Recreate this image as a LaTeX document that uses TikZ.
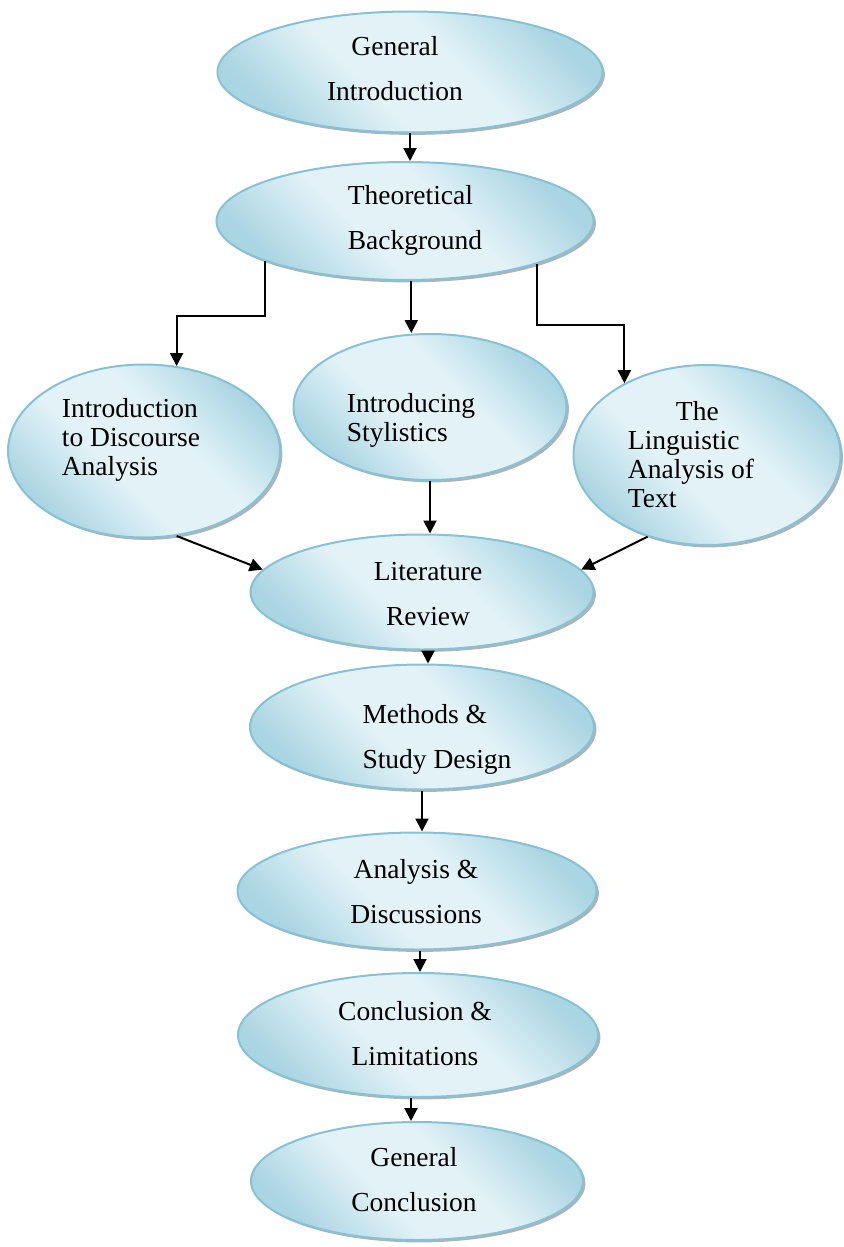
\documentclass[tikz,border=0pt]{standalone}
\usepackage{fontspec}
\setmainfont{Liberation Serif}
\usetikzlibrary{arrows.meta}
\usetikzlibrary{shapes.geometric}
\usetikzlibrary{shadows}

\definecolor{bubedge}{RGB}{134,194,213}
\definecolor{bubdark}{RGB}{170,213,226}
\definecolor{bublight}{RGB}{226,242,247}

\pgfdeclareverticalshading{bubshade}{100bp}{color(0bp)=(bubdark); color(25bp)=(bubdark);
	color(42bp)=(bublight); color(58bp)=(bublight); color(75bp)=(bubdark); color(100bp)=(bubdark)}

\begin{document}
\begin{tikzpicture}[x=0.5pt, y=-0.5pt,
	bub/.style={ellipse, draw=bubedge, line width=1pt, inner sep=0pt,
		shade, shading=bubshade, shading angle=135,
		drop shadow={shadow xshift=1.2pt, shadow yshift=-1.2pt, opacity=0.3, fill=black}},
	wide/.style={inner sep=0pt, font=\fontsize{13.75}{22.5}\selectfont},
	narrow/.style={inner sep=0pt, align=left, font=\fontsize{13.75}{14.5}\selectfont},
	arr/.style={-{Triangle[length=6.5pt,width=6.5pt]}, line width=1pt}]
	\fill[white] (0,0) rectangle (843,1247);
	\useasboundingbox (0,0) rectangle (843,1247);
	
	% bubbles
	\node[bub, minimum width=192.5pt, minimum height=60.5pt] (gi) at (410,72) {};
	\node[bub, minimum width=188.5pt, minimum height=59pt] (tb) at (405,221) {};
	\node[bub, minimum width=136pt, minimum height=86.5pt] (dis) at (144,451) {};
	\node[bub, minimum width=136.5pt, minimum height=73pt] (sty) at (430,407) {};
	\node[bub, minimum width=133.5pt, minimum height=90pt] (lin) at (707,455) {};
	\node[bub, minimum width=171.5pt, minimum height=57.5pt] (lr) at (422,592) {};
	\node[bub, minimum width=172pt, minimum height=62.5pt] (met) at (422,727) {};
	\node[bub, minimum width=179.5pt, minimum height=58.5pt] (ana) at (417,891) {};
	\node[bub, minimum width=180pt, minimum height=62pt] (con) at (418,1035) {};
	\node[bub, minimum width=166pt, minimum height=59pt] (gc) at (417,1181) {};
	
	% texts
	\node[wide, align=center] (gi-t) at (395,69) {General\\Introduction};
	\node[wide, align=left] (tb-t) at (415,220) {Theoretical\\Background};
	\node[narrow] (dis-t) at (131,440) {Introduction\\to Discourse\\Analysis};
	\node[narrow] (sty-t) at (411,420) {Introducing\\Stylistics};
	\node[narrow] (lin-t) at (691,455) {\hspace*{24pt}The\\Linguistic\\Analysis of\\Text};
	\node[wide, align=center] (lr-t) at (428,594) {Literature\\Review};
	\node[wide, align=left] (met-t) at (437,739) {Methods \&\\Study Design};
	\node[wide, align=center] (ana-t) at (416,892) {Analysis \&\\Discussions};
	\node[wide, align=center] (con-t) at (415,1034) {Conclusion \&\\Limitations};
	\node[wide, align=center] (gc-t) at (414,1180) {General\\Conclusion};
	
	% arrows
	\draw[arr] (gi.south) -- (gi.south |- tb.north);
	\draw[arr] (tb.196) -- ++(0,55) -| (dis.69);
	\draw[arr] (tb.276) -- (tb.276 |- sty.north);
	\draw[arr] (tb.342) -- ++(0,61) -| (lin.139);
	\draw[arr] (dis.291) -- (lr.172);
	\draw[arr] (sty.south) -- (sty.south |- lr.north);
	\draw[arr] (lin.234) -- (lr.8);
	\draw[arr] ([xshift=3pt]lr.south) -- ([xshift=3pt]lr.south |- met.north);
	\draw[arr] (met.south) -- (met.south |- ana.north);
	\draw[arr] ([xshift=1.5pt]ana.south) -- ([xshift=1.5pt]ana.south |- con.north);
	\draw[arr] ([xshift=-3.5pt]con.south) -- ([xshift=-3.5pt]con.south |- gc.north);
\end{tikzpicture}
\end{document}
